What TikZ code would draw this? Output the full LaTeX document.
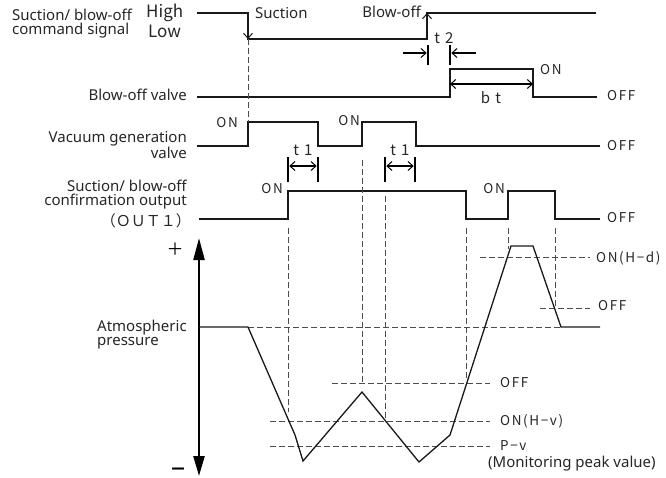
\documentclass[tikz,border=0pt]{standalone}
\usepackage{fontspec}
\setmainfont{Noto Sans}
\newfontfamily\jpfont{Noto Sans CJK JP}
\newfontfamily\jpwide[LetterSpace=12]{Noto Sans CJK JP}
\usetikzlibrary{arrows.meta}

\begin{document}
\begin{tikzpicture}[x=1pt, y=-1pt,
    sig/.style={line width=1.3pt, black!90},
    guide/.style={line width=0.8pt, black!70, dash pattern=on 5.5pt off 3.5pt},
    lbl/.style={font=\fontsize{15}{14}\selectfont, text=black!85, inner sep=0pt},
    onoff/.style={font=\jpwide\fontsize{13.5}{12}\selectfont, text=black!85, inner sep=0pt},
    tlbl/.style={font=\jpwide\fontsize{15}{14}\selectfont, text=black!85, inner sep=0pt},
    hilo/.style={font=\jpfont\fontsize{17}{17}\selectfont, text=black!85, inner sep=0pt},
    tbar/.style={line width=2.6pt},
    >={Straight Barb[length=5pt, width=9pt, line width=1pt]}
]
    \useasboundingbox (0,0) rectangle (666,477);

    % Command signal
    \node[lbl, anchor=base west, align=left] (cmdlbl) at (12,34.5) {Suction/ blow-off\\command signal};
    \node[hilo, anchor=base west] (high) at (146,17) {High};
    \node[hilo, anchor=base west] (low) at (148,37.5) {Low};
    \draw[sig] (197,13) -- (248,13) -- (248,39) -- (427,39) -- (427,13) -- (596,13);
    \draw[sig, ->] (248,22) -- (248,39);
    \draw[sig, ->] (427,30) -- (427,13);
    \node[lbl, anchor=base west] (suct) at (255,18) {Suction};
    \node[lbl, anchor=base east] (blow) at (421,17) {Blow-off};

    % t2 delay
    \draw[tbar] (428,45) -- (428,65);
    \draw[tbar] (450,45) -- (450,65);
    \draw[line width=1.2pt, ->] (403,53) -- (426.7,53);
    \draw[line width=1.2pt, ->] (476,53) -- (451.3,53);
    \node[tlbl, anchor=base] (t2) at (444,43) {t 2};

    % Blow-off valve
    \node[lbl, anchor=base east] (bvlbl) at (187,100) {Blow-off valve};
    \draw[sig] (197,97) -- (450,97) -- (450,69) -- (533,69) -- (533,97) -- (597,97);
    \draw[line width=2.4pt, <->] (450,84) -- (533,84);
    \node[onoff, anchor=base west] (bvon) at (540,74) {ON};
    \node[onoff, anchor=base west] (bvoff) at (607,100) {OFF};
    \node[tlbl, anchor=base] (bt) at (491,103) {b t};

    % Vacuum generation valve
    \node[lbl, anchor=base east, align=right] (vglbl) at (187,158) {Vacuum generation\\valve};
    \draw[sig] (197,146) -- (248,146) -- (248,122) -- (318,122) -- (318,146) -- (362,146)
        -- (362,122) -- (416,122) -- (416,146) -- (600,146);
    \node[onoff, anchor=base east] (vgon1) at (238,127) {ON};
    \node[onoff, anchor=base east] (vgon2) at (360,125) {ON};
    \node[onoff, anchor=base west] (vgoff) at (607,150) {OFF};

    % t1 delays
    \foreach \a/\b/\n in {288/318/1, 385/415/2} {
        \draw[tbar] (\a,157) -- (\a,182);
        \draw[tbar] (\b,157) -- (\b,182);
        \draw[line width=1.8pt, <->] (\a+1.3,166) -- (\b-1.3,166);
        \node[tlbl, anchor=base] (t1\n) at ({(\a+\b)/2},155) {t 1};
    }

    % Confirmation output
    \node[lbl, anchor=base east, align=right] (cflbl) at (187,205) {Suction/ blow-off\\confirmation output};
    \node[font=\jpfont\fontsize{15}{15}\selectfont, text=black!85, inner sep=0pt, anchor=base east] (out1) at (191,226) {（ＯＵＴ１）};
    \draw[sig] (199,219) -- (288,219) -- (288,191) -- (466,191) -- (466,219) -- (508,219)
        -- (508,191) -- (555,191) -- (555,219) -- (600,219);
    \node[onoff, anchor=base east] (cfon1) at (283,193) {ON};
    \node[onoff, anchor=base east] (cfon2) at (505,193) {ON};
    \node[onoff, anchor=base west] (cfoff) at (607,222) {OFF};

    % Pressure
    \draw[line width=2.4pt, {Triangle[length=22pt, width=11pt]}-{Triangle[length=20pt, width=11pt]}] (199,238) -- (199,476);
    \node[font=\jpfont\fontsize{17}{17}\selectfont, inner sep=0pt] (plus) at (175,249) {＋};
    \node[font=\jpfont\bfseries\fontsize{17}{17}\selectfont, inner sep=0pt] (minus) at (178,472) {－};
    \node[lbl, anchor=base west, align=left] (atmlbl) at (97,345) {Atmospheric\\pressure};

    \draw[guide] (248,39) -- (248,122);
    \draw[guide] (288,228) -- (288,412);
    \draw[guide] (362,160) -- (362,383);
    \draw[guide] (385,196) -- (385,418);
    \draw[guide] (466,228) -- (466,378);
    \draw[guide] (508,228) -- (508,249);
    \draw[guide] (555,228) -- (555,306);
    \draw[guide] (248,327) -- (561,327);
    \draw[guide] (480,257) -- (590,257);
    \draw[guide] (540,308) -- (590,308);
    \draw[guide] (332,383) -- (490,383);
    \draw[guide] (270,421) -- (490,421);
    \draw[guide] (270,446) -- (490,446);

    \draw[sig] (199,327) -- (248,327) -- (295,435) -- (303,461) -- (362,392) -- (419,462)
        -- (450,435) -- (511,246) -- (533,246) -- (561,327) -- (600,327);

    \node[onoff, anchor=base west] (onhd) at (596,262) {ON(H−d)};
    \node[onoff, anchor=base west] (offd) at (598,310) {OFF};
    \node[onoff, anchor=base west] (offv) at (500,387) {OFF};
    \node[onoff, anchor=base west] (onhv) at (500,425) {ON(H−v)};
    \node[onoff, anchor=base west] (pv) at (500,450) {P−v};
    \node[lbl, anchor=base west] (peak) at (488,467) {(Monitoring peak value)};
\end{tikzpicture}
\end{document}
